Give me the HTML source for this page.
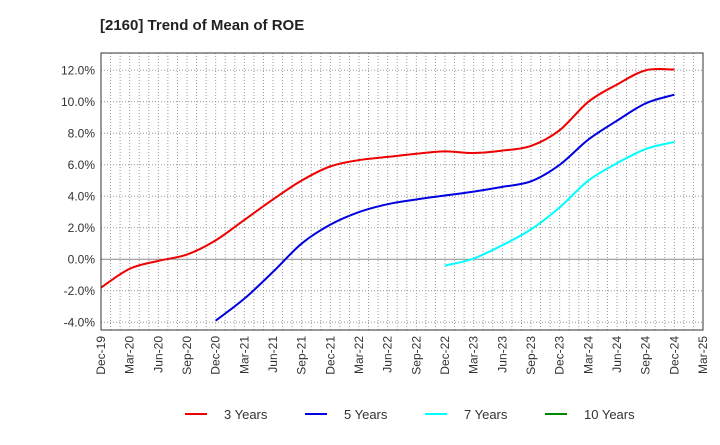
<!DOCTYPE html>
<html><head><meta charset="utf-8"><style>
body{margin:0;background:#fff;font-family:"Liberation Sans",Arial,sans-serif}
svg text{font-family:"Liberation Sans",Arial,sans-serif}
</style></head><body>
<svg id="c" width="720" height="440">
<text x="100" y="30" font-size="15" font-weight="bold" fill="#222">[2160]  Trend of Mean of ROE</text>
<g id="grid"></g><g id="series"></g><g id="axes"></g>
<g font-size="13" fill="#333">
<line x1="185" y1="414" x2="207" y2="414" stroke="#e00" stroke-width="2"/>
<text x="224" y="419">3 Years</text>
<line x1="305" y1="414" x2="327" y2="414" stroke="#0000e0" stroke-width="2"/>
<text x="344" y="419">5 Years</text>
<line x1="425" y1="414" x2="447" y2="414" stroke="#0ff" stroke-width="2"/>
<text x="464" y="419">7 Years</text>
<line x1="545" y1="414" x2="567" y2="414" stroke="#080" stroke-width="2"/>
<text x="584" y="419">10 Years</text>
</g>
</svg>
<script>
const categories=["Dec-19","Mar-20","Jun-20","Sep-20","Dec-20","Mar-21","Jun-21","Sep-21","Dec-21","Mar-22","Jun-22","Sep-22","Dec-22","Mar-23","Jun-23","Sep-23","Dec-23","Mar-24","Jun-24","Sep-24","Dec-24","Mar-25"];
const yTicks=[-4,-2,0,2,4,6,8,10,12];
const s3=[-1.8,-0.6,-0.1,0.3,1.2,2.5,3.8,5.0,5.9,6.3,6.5,6.7,6.85,6.75,6.9,7.2,8.2,10.0,11.1,12.0,12.05];
const s5=[null,null,null,null,-3.9,-2.5,-0.8,1.0,2.2,3.0,3.5,3.8,4.05,4.3,4.6,4.95,6.0,7.6,8.8,9.9,10.45];
const s7=[null,null,null,null,null,null,null,null,null,null,null,null,-0.4,0.05,0.9,1.9,3.3,5.0,6.1,7.0,7.45];
const L=101,R=703,T=53,B=330;
const x=i=>L+i*(R-L)/(categories.length-1);
const y=v=>259.3-v*15.75;
const NS="http://www.w3.org/2000/svg";
function mk(t,a,p){const e=document.createElementNS(NS,t);for(const k in a)e.setAttribute(k,a[k]);p.appendChild(e);return e;}
const g=document.getElementById('grid'),ax=document.getElementById('axes'),sg=document.getElementById('series');
for(let m=1;m<(categories.length-1)*3;m++){const xx=L+m*(R-L)/((categories.length-1)*3);
const l=mk('line',{x1:xx,x2:xx,y1:T,y2:B,stroke:'#999','stroke-dasharray':'1,2','stroke-width':1},g);

}
yTicks.forEach(v=>{const l=mk('line',{x1:L,x2:R,y1:y(v),y2:y(v),stroke:v===0?'#888':'#999','stroke-dasharray':v===0?'':'1,2'},g);


const t=mk('text',{x:L-6,y:y(v)+4,'text-anchor':'end','font-size':12,fill:'#333'},ax);t.textContent=v.toFixed(1)+'%';

});
categories.forEach((c,i)=>{const t=mk('text',{transform:`translate(${x(i)+4},${B+6}) rotate(-90)`,'text-anchor':'end','font-size':12,fill:'#333'},ax);t.textContent=c;

});
const fr=mk('rect',{x:L,y:T,width:R-L,height:B-T,fill:'none',stroke:'#333'},ax);


function path(arr){const p=[];arr.forEach((v,i)=>{if(v!==null)p.push([x(i),y(v)]);});
let d=`M${p[0][0]},${p[0][1]}`;for(let i=0;i<p.length-1;i++){const p0=p[Math.max(0,i-1)],p1=p[i],p2=p[i+1],p3=p[Math.min(p.length-1,i+2)];
d+=` C${p1[0]+(p2[0]-p0[0])/6},${p1[1]+(p2[1]-p0[1])/6} ${p2[0]-(p3[0]-p1[0])/6},${p2[1]-(p3[1]-p1[1])/6} ${p2[0]},${p2[1]}`;}return d;}
[[s3,'#e00','series-3-years'],[s5,'#0000e0','series-5-years'],[s7,'#0ff','series-7-years']].forEach(([a,c,n])=>{
const e=mk('path',{d:path(a),fill:'none',stroke:c,'stroke-width':2},sg);

});
</script>
</body></html>
